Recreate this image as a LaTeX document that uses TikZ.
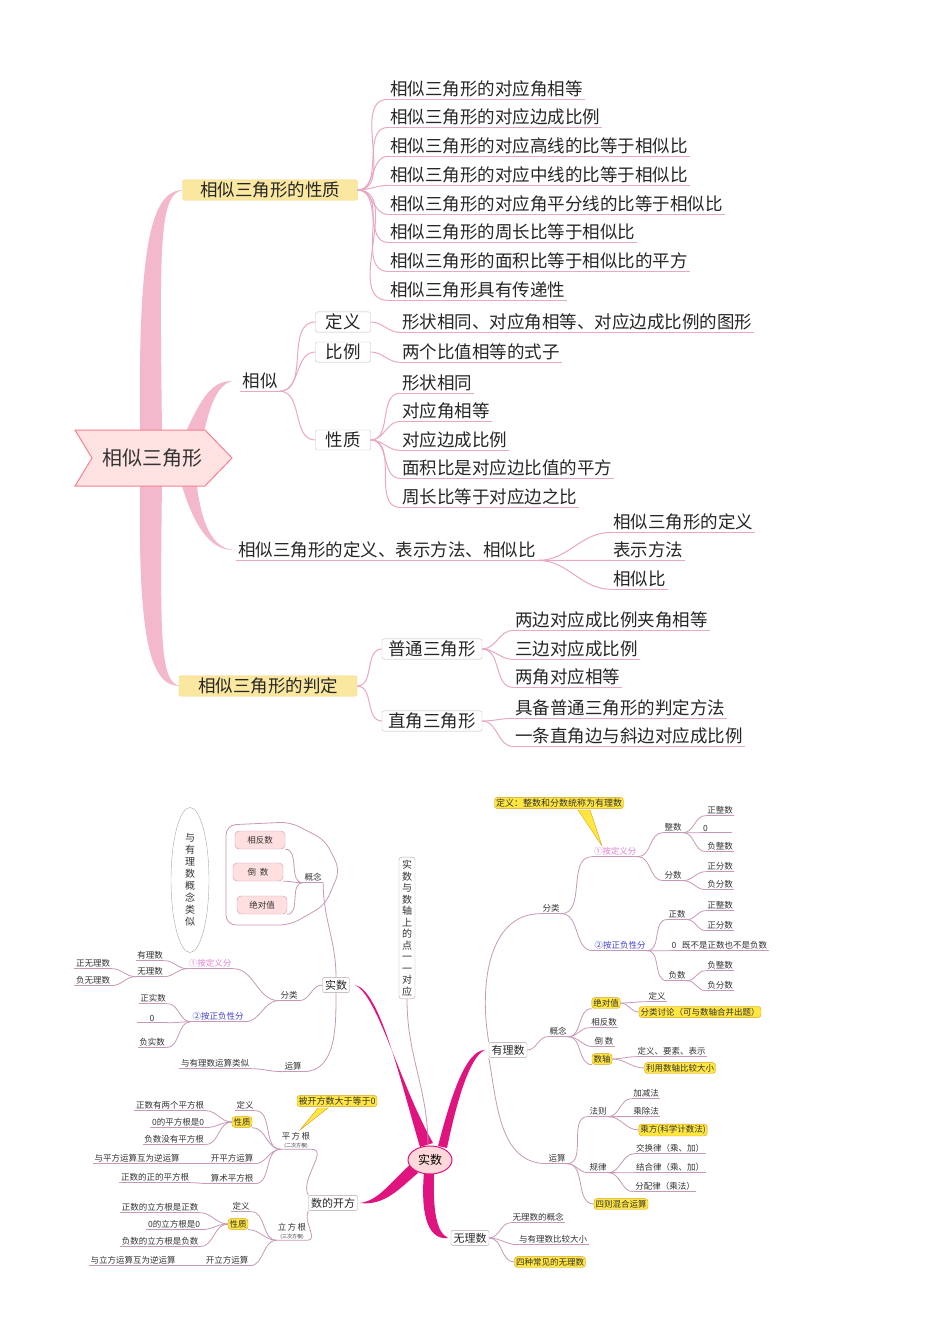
\documentclass[tikz,border=0pt]{standalone}
\usepackage{fontspec}
\usetikzlibrary{shapes.geometric}
\newfontfamily\cjk{Noto Sans CJK SC}
\definecolor{toplc}{HTML}{E8A8C4}
\definecolor{lnc}{HTML}{C898B8}
\definecolor{brc}{HTML}{F4B8CC}
\definecolor{mag}{HTML}{E0147F}
\definecolor{ylw}{HTML}{FFE640}
\definecolor{ylwd}{HTML}{D8A020}
\definecolor{ylt}{HTML}{FAE8A0}
\definecolor{boxc}{HTML}{B0A0A8}
\definecolor{pv}{HTML}{E080D0}
\definecolor{bv}{HTML}{4040D0}
\tikzset{
 T/.style={font=\cjk\fontsize{17.5}{17.5}\selectfont,inner sep=2pt,text=black!85},
 S/.style={font=\cjk\fontsize{8.5}{9}\selectfont,inner sep=1.5pt,text=black!80},
 M/.style={font=\cjk\fontsize{11}{12}\selectfont,inner sep=2.5pt,text=black!85},
 lnt/.style={draw=toplc,line width=1pt},
 ln/.style={draw=lnc,line width=0.8pt},
 ult/.style={append after command={(\tikzlastnode.south west) edge[lnt] (\tikzlastnode.south east)}},
 ul/.style={append after command={(\tikzlastnode.south west) edge[ln] (\tikzlastnode.south east)}},
 ybox/.style={fill=ylw,draw=ylwd,rounded corners=3pt},
 tbox/.style={draw=boxc!70,rounded corners=2pt,fill=white},
 bbox/.style={draw=boxc,rounded corners=2pt,fill=white},
 pbox/.style={draw=lnc,fill=pink!50,rounded corners=4pt,minimum width=50pt,minimum height=18pt},
}
\newcommand\lkR[2]{\draw[ln] (#1.south east) to[out=0,in=180] (#2.south west);}
\newcommand\lkL[2]{\draw[ln] (#1.south west) to[out=180,in=0] (#2.south east);}
\newcommand\tkR[2]{\draw[lnt] (#1) to[out=0,in=180] (#2.south west);}
\begin{document}
\begin{tikzpicture}[x=1pt,y=-1pt]
\useasboundingbox[fill=white] (0,0) rectangle (950,1344);
% ================= TOP =================
\fill[brc] (140,435) .. controls (138,250) and (150,190) .. (183,190) .. controls (158,194) and (160,250) .. (162,435) -- cycle;
\fill[brc] (180,445) .. controls (200,400) and (210,381) .. (232,381) .. controls (215,386) and (208,410) .. (200,452) -- cycle;
\fill[brc] (195,468) .. controls (200,530) and (215,550) .. (236,550) .. controls (210,552) and (192,525) .. (178,472) -- cycle;
\fill[brc] (140,482) .. controls (138,640) and (150,686) .. (180,686) .. controls (160,682) and (160,640) .. (162,482) -- cycle;
\filldraw[draw=brc!70!red,fill=pink!45,line width=1pt] (75,430) -- (205,430) -- (232,458) -- (205,486) -- (75,486) -- (92,458) -- cycle;
\node[font=\cjk\fontsize{20}{20}\selectfont,text=black!80] (rt) at (152,458) {相似三角形};

\node[T,fill=ylt,draw=ylt!80!orange,rounded corners=2pt,minimum width=175pt] (P) at (270,190) {相似三角形的性质};
\foreach \t/\y [count=\i] in {相似三角形的对应角相等/89,相似三角形的对应边成比例/117,相似三角形的对应高线的比等于相似比/146,相似三角形的对应中线的比等于相似比/175,相似三角形的对应角平分线的比等于相似比/204,相似三角形的周长比等于相似比/232,相似三角形的面积比等于相似比的平方/261,相似三角形具有传递性/290}{
 \node[T,ult,anchor=west] (p\i) at (388,\y) {\t};
 \tkR{P.east}{p\i}
}
\node[T,ult] (X) at (260,381) {相似};
\node[T,tbox,minimum width=55pt] (Xa) at (343,322) {定义};
\node[T,tbox,minimum width=55pt] (Xb) at (343,352) {比例};
\node[T,tbox,minimum width=55pt] (Xc) at (343,440) {性质};
\foreach \n in {Xa,Xb,Xc}{\draw[lnt] (X.south east) to[out=0,in=180] (\n.west);}
\node[T,ult,anchor=west] (xa1) at (400,322) {形状相同、对应角相等、对应边成比例的图形};
\tkR{Xa.east}{xa1}
\node[T,ult,anchor=west] (xb1) at (400,352) {两个比值相等的式子};
\tkR{Xb.east}{xb1}
\foreach \t/\y [count=\i] in {形状相同/383,对应角相等/411,对应边成比例/440,面积比是对应边比值的平方/468,周长比等于对应边之比/497}{
 \node[T,ult,anchor=west] (xc\i) at (400,\y) {\t};
 \tkR{Xc.east}{xc\i}
}
\node[T,ult,anchor=west] (D) at (236,550) {相似三角形的定义、表示方法、相似比};
\foreach \t/\y [count=\i] in {相似三角形的定义/522,表示方法/550,相似比/579}{
 \node[T,ult,anchor=west] (d\i) at (611,\y) {\t};
 \tkR{D.south east}{d\i}
}
\node[T,fill=ylt,draw=ylt!80!orange,rounded corners=2pt,minimum width=178pt] (J) at (268,686) {相似三角形的判定};
\node[T,tbox,minimum width=100pt] (Ja) at (432,649) {普通三角形};
\node[T,tbox,minimum width=100pt] (Jb) at (432,721) {直角三角形};
\draw[lnt] (J.east) to[out=0,in=180] (Ja.west);
\draw[lnt] (J.east) to[out=0,in=180] (Jb.west);
\foreach \t/\y [count=\i] in {两边对应成比例夹角相等/620,三边对应成比例/649,两角对应相等/677}{
 \node[T,ult,anchor=west] (ja\i) at (513,\y) {\t};
 \tkR{Ja.east}{ja\i}
}
\foreach \t/\y [count=\i] in {具备普通三角形的判定方法/708,一条直角边与斜边对应成比例/736}{
 \node[T,ult,anchor=west] (jb\i) at (513,\y) {\t};
 \tkR{Jb.east}{jb\i}
}
% ================= BOTTOM =================
\fill[mag] (420,1147) .. controls (400,1080) and (380,990) .. (355,985) .. controls (378,996) and (398,1080) .. (433,1143) -- cycle;
\fill[mag] (438,1146) .. controls (450,1100) and (465,1050) .. (485,1050) .. controls (470,1056) and (457,1100) .. (447,1148) -- cycle;
\fill[mag] (412,1163) .. controls (390,1182) and (380,1200) .. (360,1203) .. controls (385,1206) and (400,1188) .. (418,1173) -- cycle;
\fill[mag] (424,1172) .. controls (420,1220) and (430,1240) .. (448,1238) .. controls (436,1232) and (433,1210) .. (434,1174) -- cycle;
\node[draw=boxc,rounded corners=3pt,font=\cjk\fontsize{10}{11.5}\selectfont,align=center,inner sep=3pt,text=black!80] (V) at (407,928) {实\\数\\与\\数\\轴\\上\\的\\点\\一\\一\\对\\应};
\draw[ln] (V.south) to[out=-90,in=90] (428,1146);
\node[ellipse,draw=mag,fill=pink!60,line width=1pt,minimum width=44pt,minimum height=28pt,inner sep=0pt,font=\cjk\fontsize{12}{12}\selectfont] (C) at (430,1160) {实数};
% 实数 branch
\node[M,bbox] (RS) at (336,985) {实数};
\node[ellipse,draw=boxc,minimum width=38pt,minimum height=145pt,font=\cjk\fontsize{10}{12}\selectfont,align=center,inner sep=0pt,text=black!80] (ov) at (190,880) {与\\有\\理\\数\\概\\念\\类\\似};
\draw[ln,rounded corners=10pt] (226,825) -- (290,822) -- (325,840) -- (340,870) -- (325,905) -- (290,925) -- (226,925) -- cycle;
\node[S,pbox] (g1) at (260,840) {相反数};
\node[S,pbox] (g2) at (258,872) {倒\ \ 数};
\node[S,pbox] (g3) at (262,905) {绝对值};
\node[S,ul] (GN) at (313,877) {概念};
\foreach \n in {g1,g2,g3}{\draw[ln] (\n.south east) to[out=0,in=180] (GN.south west);}
\draw[ln] (RS.north) to[out=90,in=-90] (GN.south east);
\node[S,ul] (FL) at (289,995) {分类};
\draw[ln] (RS.west) to[out=180,in=0] (FL.south east);
\node[S,ul,text=pv] (A1) at (210,963) {①按定义分};
\lkL{FL}{A1}
\node[S,ul] (a11) at (150,955) {有理数};
\node[S,ul] (a12) at (150,971) {无理数};
\lkL{A1}{a11}\lkL{A1}{a12}
\node[S,ul] (a121) at (93,963) {正无理数};
\node[S,ul] (a122) at (93,980) {负无理数};
\lkL{a12}{a121}\lkL{a12}{a122}
\node[S,ul,text=bv] (A2) at (218,1016) {②按正负性分};
\lkL{FL}{A2}
\node[S,ul] (a21) at (153,998) {正实数};
\node[S,ul,minimum width=30pt] (a22) at (152,1018) {0};
\node[S,ul] (a23) at (152,1042) {负实数};
\lkL{A2}{a21}\lkL{A2}{a22}\lkL{A2}{a23}
\node[S,ul] (YS) at (293,1066) {运算};
\draw[ln] (RS.south) to[out=-90,in=0] (YS.south east);
\node[S,ul] (ys1) at (215,1063) {与有理数运算类似};
\lkL{YS}{ys1}
% 数的开方
\node[M,bbox] (KF) at (333,1203) {数的开方};
\node[S,align=center,inner sep=1pt] (PF) at (296,1140) {平\,方\,根\\[-1pt]{\fontsize{5}{5}\selectfont (二次方根)}};
\node[S,align=center,inner sep=1pt] (LF) at (292,1231) {立\,方\,根\\[-1pt]{\fontsize{5}{5}\selectfont (三次方根)}};
\draw[ln] (KF.north west) to[out=120,in=0] (PF.south east) -- (PF.south west);
\draw[ln] (KF.south west) to[out=240,in=0] (LF.south east) -- (LF.south west);
\node[S,ybox,font=\cjk\fontsize{9}{9}\selectfont] (cb) at (337,1101) {被开方数大于等于0};
\fill[ylw,draw=ylwd] (318,1108) -- (300,1130) -- (328,1108) -- cycle;
\node[S,ul] (pa) at (245,1105) {定义};
\node[S,ybox] (pb) at (242,1122) {性质};
\node[S,ul] (pc) at (232,1158) {开平方运算};
\node[S,ul] (pd) at (232,1178) {算术平方根};
\foreach \n in {pa,pb,pc,pd}{\draw[ln] (PF.south west) to[out=180,in=0] (\n.south east);}
\node[S,ul] (pb1) at (170,1105) {正数有两个平方根};
\node[S,ul] (pb2) at (178,1122) {0的平方根是0};
\node[S,ul] (pb3) at (174,1139) {负数没有平方根};
\foreach \n in {pb1,pb2,pb3}{\draw[ln] (pb.west) to[out=180,in=0] (\n.south east);}
\node[S,ul] (pc1) at (137,1158) {与平方运算互为逆运算};
\lkL{pc}{pc1}
\node[S,ul] (pd1) at (155,1177) {正数的正的平方根};
\lkL{pd}{pd1}
\node[S,ul] (la) at (241,1206) {定义};
\node[S,ybox] (lb) at (238,1224) {性质};
\node[S,ul] (lc) at (227,1260) {开立方运算};
\foreach \n in {la,lb,lc}{\draw[ln] (LF.south west) to[out=180,in=0] (\n.south east);}
\node[S,ul] (lb1) at (160,1207) {正数的立方根是正数};
\node[S,ul] (lb2) at (174,1224) {0的立方根是0};
\node[S,ul] (lb3) at (160,1241) {负数的立方根是负数};
\foreach \n in {lb1,lb2,lb3}{\draw[ln] (lb.west) to[out=180,in=0] (\n.south east);}
\node[S,ul] (lc1) at (133,1260) {与立方运算互为逆运算};
\lkL{lc}{lc1}
% 有理数
\node[M,bbox] (YL) at (508,1050) {有理数};
\node[S,ul] (YF) at (551,908) {分类};
\draw[ln] (YL.north west) to[out=100,in=180] (YF.south west);
\node[S,ybox,font=\cjk\fontsize{9}{9}\selectfont] (cd) at (559,803) {定义：整数和分数统称为有理数};
\fill[ylw,draw=ylwd] (578,810) -- (602,846) -- (590,810) -- cycle;
\node[S,ul,text=pv] (B1) at (615,851) {①按定义分};
\lkR{YF}{B1}
\node[S,ul] (b11) at (673,827) {整数};
\node[S,ul] (b12) at (673,875) {分数};
\lkR{B1}{b11}\lkR{B1}{b12}
\node[S,ul] (b111) at (720,810) {正整数};
\node[S,ul,minimum width=32pt,text width=26pt] (b112) at (716,828) {0};
\node[S,ul] (b113) at (720,846) {负整数};
\lkR{b11}{b111}\lkR{b11}{b112}\lkR{b11}{b113}
\node[S,ul] (b121) at (720,866) {正分数};
\node[S,ul] (b122) at (720,884) {负分数};
\lkR{b12}{b121}\lkR{b12}{b122}
\node[S,ul,text=bv] (B2) at (620,945) {②按正负性分};
\lkR{YF}{B2}
\node[S,ul] (b21) at (677,914) {正数};
\node[S,ul,anchor=west] (b22) at (670,945) {0\ \ \ 既不是正数也不是负数};
\node[S,ul] (b23) at (677,975) {负数};
\lkR{B2}{b21}\lkR{B2}{b22}\lkR{B2}{b23}
\node[S,ul] (b211) at (720,905) {正整数};
\node[S,ul] (b212) at (720,925) {正分数};
\lkR{b21}{b211}\lkR{b21}{b212}
\node[S,ul] (b231) at (720,965) {负整数};
\node[S,ul] (b232) at (720,985) {负分数};
\lkR{b23}{b231}\lkR{b23}{b232}
\node[S,ul] (GY) at (558,1031) {概念};
\draw[ln] (YL.east) to[out=0,in=180] (GY.south west);
\node[S,ybox] (gy1) at (606,1003) {绝对值};
\node[S,ul] (gy2) at (604,1022) {相反数};
\node[S,ul] (gy3) at (604,1041) {倒\ 数};
\node[S,ybox] (gy4) at (602,1059) {数轴};
\foreach \n in {gy1,gy2,gy3,gy4}{\draw[ln] (GY.south east) to[out=0,in=180] (\n.south west);}
\node[S,ul] (gy11) at (657,996) {定义};
\node[S,ybox] (gy12) at (700,1012) {分类讨论（可与数轴合并出题）};
\draw[ln] (gy1.east) to[out=0,in=180] (gy11.south west);
\draw[ln] (gy1.east) to[out=0,in=180] (gy12.west);
\node[S,ul,anchor=west] (gy41) at (636,1051) {定义、要素、表示};
\node[S,ybox] (gy42) at (680,1068) {利用数轴比较大小};
\draw[ln] (gy4.east) to[out=0,in=180] (gy41.south west);
\draw[ln] (gy4.east) to[out=0,in=180] (gy42.west);
\node[S,ul] (YY) at (557,1158) {运算};
\draw[ln] (YL.south west) to[out=-80,in=180] (YY.south west);
\node[S,ul] (fz) at (598,1111) {法则};
\node[S,ul] (gl) at (598,1167) {规律};
\node[S,ybox] (sz) at (621,1204) {四则混合运算};
\draw[ln] (YY.south east) to[out=0,in=180] (fz.south west);
\draw[ln] (YY.south east) to[out=0,in=180] (gl.south west);
\draw[ln] (YY.south east) to[out=0,in=180] (sz.west);
\node[S,ul] (fz1) at (646,1093) {加减法};
\node[S,ul] (fz2) at (646,1111) {乘除法};
\node[S,ybox] (fz3) at (673,1130) {乘方(科学计数法)};
\lkR{fz}{fz1}\lkR{fz}{fz2}\draw[ln] (fz.south east) to[out=0,in=180] (fz3.west);
\node[S,ul] (gl1) at (670,1148) {交换律（乘、加）};
\node[S,ul] (gl2) at (670,1167) {结合律（乘、加）};
\node[S,ul] (gl3) at (665,1186) {分配律（乘法）};
\lkR{gl}{gl1}\lkR{gl}{gl2}\lkR{gl}{gl3}
% 无理数
\node[M,bbox] (WL) at (470,1238) {无理数};
\node[S,ul] (w1) at (538,1217) {无理数的概念};
\node[S,ul] (w2) at (553,1239) {与有理数比较大小};
\node[S,ybox] (w3) at (550,1262) {四种常见的无理数};
\draw[ln] (WL.east) to[out=0,in=180] (w1.south west);
\draw[ln] (WL.east) to[out=0,in=180] (w2.south west);
\draw[ln] (WL.east) to[out=0,in=180] (w3.west);
\end{tikzpicture}
\end{document}
